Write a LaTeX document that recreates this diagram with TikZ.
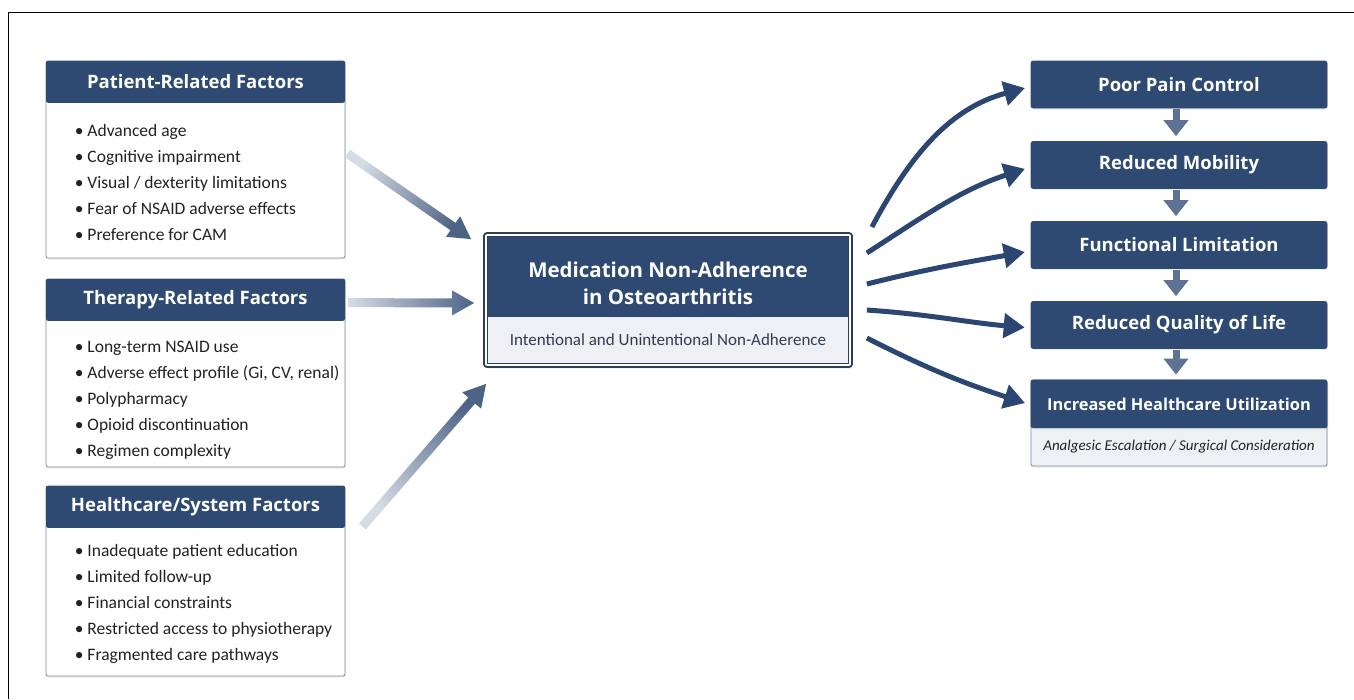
\documentclass[tikz,border=0pt]{standalone}
\usepackage{fontspec}
\setmainfont{Carlito}
\newfontfamily\hdrfont{Open Sans}
\usetikzlibrary{arrows.meta,calc,shadows}
\definecolor{hdr}{HTML}{2E4A72}
\definecolor{bord}{HTML}{7A8BA3}
\definecolor{cbord}{HTML}{2C3E58}
\definecolor{lightfill}{HTML}{EEF0F4}
\definecolor{darr}{HTML}{5E7391}
\definecolor{carr}{HTML}{2B4670}
\definecolor{gstart}{HTML}{D6DCE4}
\definecolor{gend}{HTML}{4C6386}
\definecolor{bodytxt}{HTML}{222222}
\definecolor{subtxt}{HTML}{2E3D55}
\newcommand\gradarrow[3]{%
  \shade[bottom color=gstart, top color=gend, shading angle=#3]
    ($(#1)!4.5pt!90:(#2)$) --
    ($(#2)!22pt!(#1)!4.5pt!90:(#2)$) --
    ($(#2)!22pt!(#1)!12.5pt!90:(#2)$) --
    (#2) --
    ($(#2)!22pt!(#1)!12.5pt!-90:(#2)$) --
    ($(#2)!22pt!(#1)!4.5pt!-90:(#2)$) --
    ($(#1)!4.5pt!-90:(#2)$) -- cycle;}
\begin{document}
\begin{tikzpicture}[x=1pt,y=1pt,
  lbox/.style={draw=bord, line width=0.8pt, fill=white, rounded corners=2pt,
    minimum width=299pt, inner sep=0pt,
    drop shadow={shadow xshift=1pt, shadow yshift=-1.5pt, opacity=0.15}},
  lhdr/.style={fill=hdr, text=white, font=\hdrfont\fontsize{18.5}{20}\selectfont\bfseries,
    minimum width=299pt, minimum height=42pt, inner sep=0pt, rounded corners=2pt},
  blist/.style={align=left, inner sep=0pt, text=bodytxt,
    font=\fontsize{17.5}{26}\selectfont},
  rbox/.style={fill=hdr, draw=hdr, line width=0.6pt, text=white, rounded corners=2pt,
    font=\hdrfont\fontsize{18.5}{20}\selectfont\bfseries, minimum width=296pt,
    minimum height=47pt, inner sep=0pt,
    drop shadow={shadow xshift=1pt, shadow yshift=-1.5pt, opacity=0.15}},
  dnarrow/.style={draw=darr, line width=7pt,
    -{Triangle[width=24pt,length=16pt]}, shorten >=5pt, shorten <=1pt},
  crv/.style={draw=carr, line width=5pt,
    -{Triangle[width=24pt,length=21pt]}, shorten >=6pt}]
\useasboundingbox (0,0) rectangle (1354,-699);
% outer frame
\draw[line width=1.3pt] (8.5,-699) -- (8.5,-12.5) -- (1354,-12.5);

% ---------- left boxes ----------
\node[lbox, minimum height=197pt] (p) at (195.5,-159.5) {};
\node[lhdr, anchor=north] (ph) at (p.north) {Patient-Related Factors};
\node[blist, anchor=north west] (pl) at ($(p.north west)+(29,-64)$)
  {\textbullet\ Advanced age\\ \textbullet\ Cognitive impairment\\
   \textbullet\ Visual / dexterity limitations\\ \textbullet\ Fear of NSAID adverse effects\\
   \textbullet\ Preference for CAM};

\node[lbox, minimum height=188pt] (t) at (195.5,-373) {};
\node[lhdr, anchor=north] (th) at (t.north) {Therapy-Related Factors};
\node[blist, anchor=north west] (tl) at ($(t.north west)+(29,-62)$)
  {\textbullet\ Long-term NSAID use\\ \textbullet\ Adverse effect profile (Gi, CV, renal)\\
   \textbullet\ Polypharmacy\\ \textbullet\ Opioid discontinuation\\
   \textbullet\ Regimen complexity};

\node[lbox, minimum height=190pt] (h) at (195.5,-581) {};
\node[lhdr, anchor=north] (hh) at (h.north) {Healthcare/System Factors};
\node[blist, anchor=north west] (hl) at ($(h.north west)+(29,-59)$)
  {\textbullet\ Inadequate patient education\\ \textbullet\ Limited follow-up\\
   \textbullet\ Financial constraints\\ \textbullet\ Restricted access to physiotherapy\\
   \textbullet\ Fragmented care pathways};

% ---------- center box ----------
\node[draw=cbord, line width=1.8pt, fill=white, rounded corners=3pt,
  minimum width=368pt, minimum height=134pt, inner sep=0pt,
  drop shadow={shadow xshift=1pt, shadow yshift=-1.5pt, opacity=0.15}] (c) at (668,-300) {};
\fill[hdr] ($(c.north west)+(4.5,-4.5)$) rectangle ($(c.north east)+(-4.5,-85)$);
\fill[lightfill] ($(c.north west)+(4.5,-85)$) rectangle ($(c.south east)+(-4.5,4.5)$);
\draw[cbord, line width=0.8pt] ($(c.north west)+(4.5,-4.5)$) rectangle ($(c.south east)+(-4.5,4.5)$);
\node[text=white, align=center, font=\hdrfont\fontsize{20.5}{27}\selectfont\bfseries] (ct) at (668,-283)
  {Medication Non-Adherence\\in Osteoarthritis};
\node[text=subtxt, font=\fontsize{17}{18}\selectfont] (cs) at (668,-340)
  {Intentional and Unintentional Non-Adherence};

% ---------- right boxes ----------
\node[rbox] (r1) at (1179,-84.5) {Poor Pain Control};
\node[rbox] (r2) at (1179,-165) {Reduced Mobility};
\node[rbox] (r3) at (1179,-245) {Functional Limitation};
\node[rbox] (r4) at (1179,-325) {Reduced Quality of Life};
\node[draw=bord, line width=0.8pt, fill=lightfill, rounded corners=2pt, minimum width=296pt,
  minimum height=86pt, inner sep=0pt,
  drop shadow={shadow xshift=1pt, shadow yshift=-1.5pt, opacity=0.15}] (r5) at (1179,-423) {};
\node[rbox, anchor=north, minimum height=48pt, drop shadow={opacity=0},
  font=\hdrfont\fontsize{16.4}{20}\selectfont\bfseries] (r5h) at (r5.north) {Increased Healthcare Utilization};
\node[text=bodytxt, font=\fontsize{15}{16}\selectfont\itshape] (r5s) at (1179,-447)
  {Analgesic Escalation / Surgical Consideration};

% down arrows
\draw[dnarrow] ([xshift=-3pt]r1.south) -- ([xshift=-3pt]r2.north);
\draw[dnarrow] ([xshift=-3pt]r2.south) -- ([xshift=-3pt]r3.north);
\draw[dnarrow] ([xshift=-3pt]r3.south) -- ([xshift=-3pt]r4.north);
\draw[dnarrow] ([xshift=-3pt]r4.south) -- ([xshift=-3pt]r5.north);

% ---------- gradient arrows into center ----------
\coordinate (a1s) at ($(p.east)+(2,6)$);
\coordinate (a1e) at ($(c.north west)+(-12,-7)$);
\coordinate (a2s) at ($(t.north east)+(3,-24)$);
\coordinate (a2e) at ($(c.west)+(-9,-3)$);
\coordinate (a3s) at ($(h.north east)+(17,-41)$);
\coordinate (a3e) at ($(c.south west)+(3,-16)$);
\gradarrow{a1s}{a1e}{-124.4}
\gradarrow{a2s}{a2e}{-90}
\gradarrow{a3s}{a3e}{-41}

% ---------- curved arrows out of center ----------
\coordinate (o1) at ($(c.east)+(19,73)$);
\coordinate (o2) at ($(c.east)+(14,47)$);
\coordinate (o3) at ($(c.east)+(14,16)$);
\coordinate (o4) at ($(c.east)+(14,-10)$);
\coordinate (o5) at ($(c.east)+(14,-38)$);
\draw[crv] (o1) to[out=62, in=195] ([yshift=-2pt]r1.west);
\draw[crv] (o2) to[out=33, in=198] ([yshift=-2pt]r2.west);
\draw[crv] (o3) to[out=14, in=190] ([yshift=-6pt]r3.west);
\draw[crv] (o4) to[out=-4, in=175] ([yshift=-3pt]r4.west);
\draw[crv] (o5) to[out=-27, in=162] ([yshift=-1pt]r5h.west);
\end{tikzpicture}
\end{document}
